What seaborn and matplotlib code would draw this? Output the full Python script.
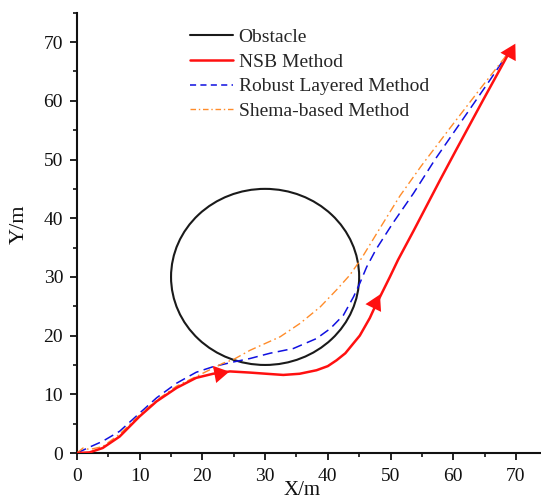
import numpy as np
import pandas as pd
import matplotlib
matplotlib.use("Agg")
import matplotlib.pyplot as plt
from matplotlib.patches import Circle
from matplotlib.lines import Line2D
from matplotlib.ticker import MultipleLocator
import seaborn as sns

# ---- data ----
obstacle_center = (30.0, 30.0)
obstacle_radius = 15.0

nsb_x = [0, 2.0, 4.1, 6.8, 10.0, 12.7, 15.9, 19.0, 21.7, 24.4, 27.6, 30.2, 32.9, 35.5,
         38.2, 40.0, 41.4, 42.8, 44.1, 45.1, 45.9, 46.7, 47.3, 48.0, 48.6, 49.9, 51.2,
         53.7, 57.9, 60.4, 64.8, 68.6]
nsb_y = [0, 0.1, 0.85, 2.8, 6.25, 8.8, 11.1, 12.8, 13.5, 13.9, 13.7, 13.5, 13.3, 13.5,
         14.1, 14.8, 15.8, 17.0, 18.7, 20.0, 21.5, 23.0, 24.4, 25.9, 27.2, 30.0, 32.9,
         37.9, 46.5, 51.5, 60.2, 67.6]

robust_x = [0, 2.0, 4.1, 6.8, 10.0, 12.7, 15.9, 19.0, 21.7, 24.9, 27.6, 30.8, 34.5,
            38.2, 40.4, 42.5, 44.1, 45.1, 46.2, 47.7, 50.4, 53.7, 57.1, 61.5, 65.9, 68.6]
robust_y = [0, 1.0, 2.0, 3.7, 6.8, 9.4, 11.9, 13.75, 14.7, 15.5, 16.1, 17.0, 17.8,
            19.5, 21.2, 23.5, 26.6, 28.9, 31.7, 34.7, 39.2, 44.3, 50.0, 56.8, 63.6, 67.9]

schema_x = [0, 0.96, 2.0, 4.1, 6.8, 10.0, 12.7, 15.9, 20.1, 23.3, 24.9, 27.6, 32.4,
            35.6, 38.8, 41.4, 43.5, 45.4, 48.2, 51.5, 54.9, 59.3, 64.2, 68.6]
schema_y = [0, 0.85, 0.6, 1.1, 3.2, 6.5, 9.0, 11.4, 13.6, 15.3, 15.9, 17.5, 19.8,
            22.1, 24.9, 27.8, 30.3, 33.2, 38.1, 43.8, 48.9, 55.1, 61.9, 67.9]

# direction arrows drawn on the NSB path
arrow_x = [22.7, 47.6, 69.0]
arrow_y = [13.65, 25.5, 68.4]

labels = ["Obstacle", "NSB Method", "Robust Layered Method", "Shema-based Method"]
x_ticks = [0, 10, 20, 30, 40, 50, 60, 70]
y_ticks = [0, 10, 20, 30, 40, 50, 60, 70]

RED = "#ff1010"
BLUE = "#1010e0"
ORANGE = "#ff8c2a"
BLACK = "#1a1a1a"

# ---- style ----
sns.set_theme(style="ticks")
plt.rcParams['font.family'] = ['Liberation Serif', 'DejaVu Serif']

fig = plt.figure(figsize=(5.41, 5.01), dpi=100)
ax = fig.add_axes([0.1423, 0.0958, 0.8577, 0.8787])
ax.set_xlim(0, 74)
ax.set_ylim(0, 75)

df_nsb = pd.DataFrame({"x": nsb_x, "y": nsb_y})
df_rob = pd.DataFrame({"x": robust_x, "y": robust_y})
df_sch = pd.DataFrame({"x": schema_x, "y": schema_y})

ax.add_patch(Circle(obstacle_center, obstacle_radius, fill=False, ec=BLACK, lw=1.5, zorder=2))
sns.lineplot(data=df_rob, x="x", y="y", sort=False, estimator=None, ax=ax,
             color=BLUE, lw=1.1, linestyle=(0, (6.5, 3.5)), zorder=3)
sns.lineplot(data=df_sch, x="x", y="y", sort=False, estimator=None, ax=ax,
             color=ORANGE, lw=1.0, linestyle=(0, (6, 2.5, 1.2, 2.5)), zorder=3)
sns.lineplot(data=df_nsb, x="x", y="y", sort=False, estimator=None, ax=ax,
             color=RED, lw=1.8, zorder=4)

# arrowheads: orientation taken from the local direction of the NSB path (display space)
pts = ax.transData.transform(np.column_stack([nsb_x, nsb_y]))
for ax_x, ax_y in zip(arrow_x, arrow_y):
    p = ax.transData.transform((ax_x, ax_y))
    d = np.hypot(pts[:, 0] - p[0], pts[:, 1] - p[1])
    i = int(np.argmin(d))
    i0, i1 = max(i - 1, 0), min(i + 1, len(pts) - 1)
    v = pts[i1] - pts[i0]
    ang = np.degrees(np.arctan2(v[1], v[0]))
    ax.plot([ax_x], [ax_y], marker=(3, 0, ang - 90), markersize=14.5, color=RED,
            markeredgewidth=0, linestyle="none", zorder=5)

ax.set_xticks(x_ticks)
ax.set_yticks(y_ticks)
ax.xaxis.set_minor_locator(MultipleLocator(5))
ax.yaxis.set_minor_locator(MultipleLocator(5))
ax.tick_params(which="major", direction="out", length=5, width=1.3, labelsize=14,
               colors="#111111")
ax.tick_params(axis="x", which="major", pad=6)
ax.tick_params(axis="y", which="major", pad=5)
ax.tick_params(which="minor", direction="out", length=2.6, width=1.2, colors="#111111")
for s in ["left", "bottom"]:
    ax.spines[s].set_linewidth(1.5)
    ax.spines[s].set_color("#111111")
sns.despine(ax=ax)

ax.set_xlabel("X/m", fontsize=15, color="#111111")
ax.set_ylabel("Y/m", fontsize=16, color="#111111")
ax.xaxis.set_label_coords(0.484, -0.064)
ax.yaxis.set_label_coords(-0.104, 0.52)

handles = [
    Line2D([], [], color=BLACK, lw=1.5),
    Line2D([], [], color=RED, lw=1.8),
    Line2D([], [], color=BLUE, lw=1.1, linestyle=(0, (4, 2.8))),
    Line2D([], [], color=ORANGE, lw=1.0, linestyle=(0, (4, 2, 1, 2))),
]
ax.legend(handles, labels, loc="upper left", bbox_to_anchor=(0.2435, 0.964),
          frameon=False, fontsize=14, handlelength=2.2, handletextpad=0.3,
          labelspacing=0.36, borderpad=0, borderaxespad=0)

fig.savefig("out.png", dpi=100)
